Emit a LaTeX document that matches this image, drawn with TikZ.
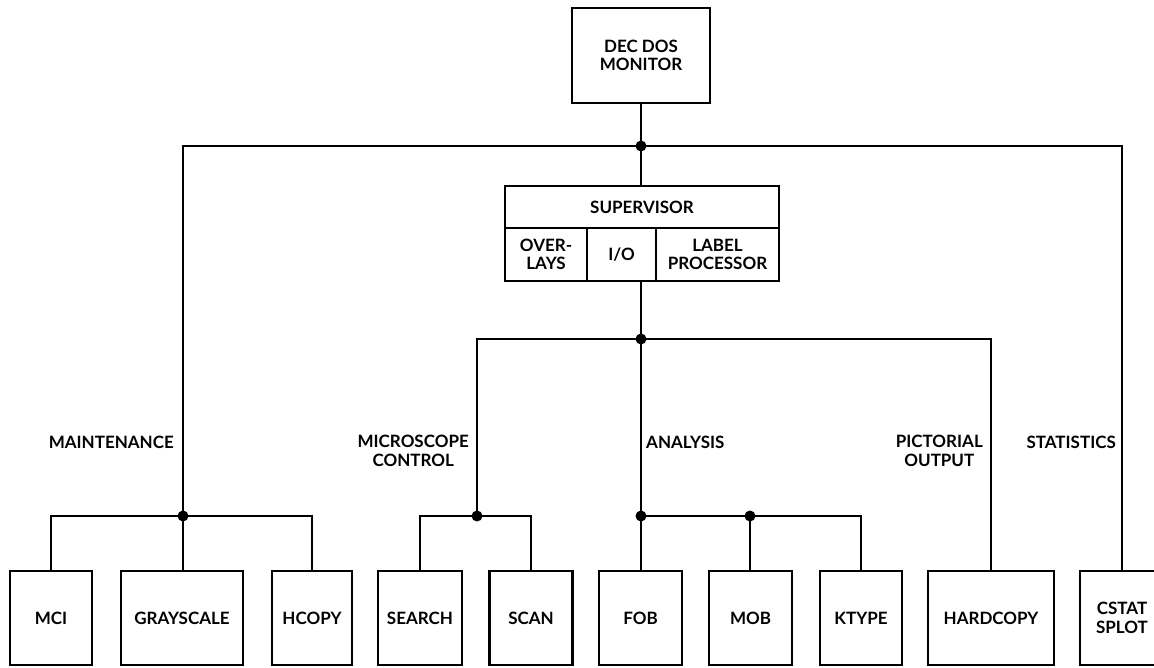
\documentclass[tikz,border=0pt]{standalone}
\usepackage{fontspec}
\setmainfont{Lato}
\begin{document}
\begin{tikzpicture}[x=1pt,y=-1pt,
  lbl/.style={font=\fontsize{17}{18.5}\selectfont\bfseries, align=center, inner sep=0pt},
  blk/.style={draw, line width=2.8pt, inner sep=0pt, align=center,
    font=\fontsize{17}{18.5}\selectfont\bfseries},
  wire/.style={line width=2.6pt},
  dot/.style={circle, fill=black, inner sep=0pt, minimum size=11pt}]
\useasboundingbox (0,0) rectangle (1154,667);
\clip (0,0) rectangle (1154,667);
% top box
\node[blk, minimum width=138pt, minimum height=95pt] (mon) at (641,55.5) {DEC DOS\\MONITOR};
% supervisor
\node[blk, minimum width=274pt, minimum height=42pt] (sup) at (642,207) {SUPERVISOR};
\node[blk, minimum width=82pt, minimum height=53pt] (ovl) at (546,254.5) {OVER-\\LAYS};
\node[blk, minimum width=69pt, minimum height=53pt] (io) at (621.5,254.5) {I/O};
\node[blk, minimum width=123pt, minimum height=53pt] (lab) at (717.5,254.5) {LABEL\\PROCESSOR};
% bottom boxes
\node[blk, minimum width=82pt, minimum height=94pt] (mci) at (51,618) {MCI};
\node[blk, minimum width=122pt, minimum height=94pt] (gray) at (182,618) {GRAYSCALE};
\node[blk, minimum width=80pt, minimum height=94pt] (hcopy) at (312,618) {HCOPY};
\node[blk, minimum width=84pt, minimum height=94pt] (search) at (420,618) {SEARCH};
\node[blk, minimum width=83pt, minimum height=94pt] (scan) at (531,618) {SCAN};
\node[blk, minimum width=83pt, minimum height=94pt] (fob) at (640.5,618) {FOB};
\node[blk, minimum width=83pt, minimum height=94pt] (mob) at (750.5,618) {MOB};
\node[blk, minimum width=82pt, minimum height=94pt] (ktype) at (861,618) {KTYPE};
\node[blk, minimum width=126pt, minimum height=94pt] (hard) at (991,618) {HARDCOPY};
\node[blk, minimum width=84pt, minimum height=94pt] (cstat) at (1122,618) {CSTAT\\SPLOT};
% junctions
\coordinate (j1) at (641,146);
\coordinate (j2) at (641,339);
\coordinate (jm) at (183,516);
\coordinate (jmc) at (477,516);
\coordinate (jan) at (641,516);
\coordinate (jmob) at (750,516);
% wires
\draw[wire] (mon.south -| j1) -- (j1);
\draw[wire] (j1) -- (j1 |- sup.north);
\draw[wire] (j1) -| (jm);
\draw[wire] (j1) -| (cstat.north);
\draw[wire] (j2 |- io.south) -- (j2);
\draw[wire] (j2) -| (jmc);
\draw[wire] (j2) -| (hard.north);
\draw[wire] (j2) -- (jan);
\draw[wire] (jan) -- (jan |- fob.north);
\draw[wire] (jan) -- (jmob);
\draw[wire] (jmob) -- (jmob |- mob.north);
\draw[wire] (jmob) -| (ktype.north);
\draw[wire] (jm) -| (mci.north);
\draw[wire] (jm) -- (jm |- gray.north);
\draw[wire] (jm) -| (hcopy.north);
\draw[wire] (jmc) -| (search.north);
\draw[wire] (jmc) -| (scan.north);
\foreach \p in {j1,j2,jm,jmc,jan,jmob} \node[dot] at (\p) {};
% labels
\node[lbl, anchor=east] (lm) at (174,442) {MAINTENANCE};
\node[lbl, anchor=east] (lmc) at (469,451) {MICROSCOPE\\CONTROL};
\node[lbl, anchor=west] (la) at (646,442) {ANALYSIS};
\node[lbl, anchor=east] (lp) at (983,451) {PICTORIAL\\OUTPUT};
\node[lbl, anchor=east] (ls) at (1116,442) {STATISTICS};
\end{tikzpicture}
\end{document}
